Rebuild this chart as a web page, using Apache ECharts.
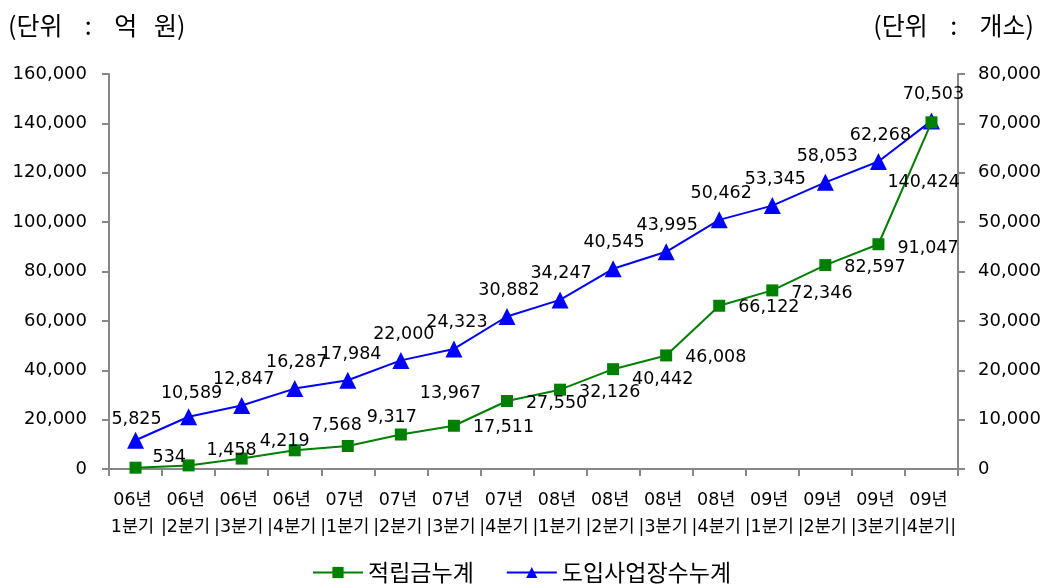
<!DOCTYPE html>
<html>
<head>
<meta charset="utf-8">
<script src="https://cdn.jsdelivr.net/npm/echarts@6/dist/echarts.min.js"></script>
<style>
  html, body { margin: 0; padding: 0; background: #fff; }
  #chart { width: 1048px; height: 585px; }
</style>
</head>
<body>
<div id="chart"></div>
<script>
// Quarterly categories (year / quarter)
const years = ['06년', '06년', '06년', '06년', '07년', '07년', '07년', '07년',
               '08년', '08년', '08년', '08년', '09년', '09년', '09년', '09년'];
const quarters = ['1분기', '2분기', '3분기', '4분기', '1분기', '2분기', '3분기', '4분기',
                  '1분기', '2분기', '3분기', '4분기', '1분기', '2분기', '3분기', '4분기'];

// 적립금누계 (억 원), left axis
const reserveTotal = [534, 1458, 4219, 7568, 9317, 13967, 17511, 27550,
                      32126, 40442, 46008, 66122, 72346, 82597, 91047, 140424];
// 도입사업장수누계 (개소), right axis
const siteTotal = [5825, 10589, 12847, 16287, 17984, 22000, 24323, 30882,
                   34247, 40545, 43995, 50462, 53345, 58053, 62268, 70503];

const seriesNames = ['적립금누계', '도입사업장수누계'];
const unitLeft = '(단위    :    억   원)';
const unitRight = '(단위    :    개소)';

// Per-point nudges for the labels so they don't collide with the lines
const reserveLabelNudge = [[-2, -10], [-1, -15], [-1, -17], [-2, -25], [0, -29], [0, -41],
                           [0, 2], [0, 2], [0, 3], [0, 10], [0, 2], [0, 2], [0, 3], [0, 2], [0, 4], [-63, 60]];
const siteLabelNudge = [[1, 5], [3, 3], [2, 0], [2, 0], [3, 0], [3, 0], [3, 0], [2, 0],
                        [1, 0], [1, 0], [1, 0], [2, 0], [3, 0], [2, 0], [2, 0], [2, 0]];

const numFont = '"DejaVu Sans", "Noto Sans CJK KR", sans-serif';
const krFont = '"Noto Sans CJK KR", sans-serif';
const fmt = v => Number(v).toLocaleString('en-US');
const axisGray = '#878787';
const last = quarters.length - 1;

const chart = echarts.init(document.getElementById('chart'), null, { renderer: 'canvas' });

chart.setOption({
  animation: false,
  backgroundColor: '#ffffff',
  title: [
    { text: unitLeft, left: 3, top: 8,
      textStyle: { fontFamily: krFont, fontSize: 25, fontWeight: 'normal', color: '#000' } },
    { text: unitRight, right: 9, top: 8,
      textStyle: { fontFamily: krFont, fontSize: 25, fontWeight: 'normal', color: '#000' } }
  ],
  legend: {
    data: seriesNames,
    left: 307,
    top: 556,
    itemWidth: 50,
    itemHeight: 14,
    itemGap: 32,
    textStyle: { fontFamily: krFont, fontSize: 23, color: '#000' }
  },
  grid: { left: 109, right: 90, top: 74, bottom: 116, containLabel: false },
  xAxis: {
    type: 'category',
    data: quarters.map((q, i) => years[i] + ' ' + q),
    boundaryGap: true,
    axisLine: { lineStyle: { color: axisGray, width: 2 } },
    axisTick: { show: true, length: 7, lineStyle: { color: axisGray, width: 2 } },
    axisLabel: {
      interval: 0,
      margin: 18,
      lineHeight: 27,
      padding: [0, 6, 0, 0],
      fontFamily: numFont,
      fontSize: 17.5,
      color: '#000',
      formatter: (val, idx) => years[idx] + '\n' + (idx === 0 ? '' : '|') + quarters[idx] + (idx === last ? '|' : '')
    },
    splitLine: { show: false }
  },
  yAxis: [
    {
      type: 'value', min: 0, max: 160000, interval: 20000,
      axisLine: { show: true, lineStyle: { color: axisGray, width: 2 } },
      axisTick: { show: true, length: 7, lineStyle: { color: axisGray, width: 2 } },
      axisLabel: { margin: 22, fontFamily: numFont, fontSize: 18, color: '#000', formatter: fmt },
      splitLine: { show: false }
    },
    {
      type: 'value', min: 0, max: 80000, interval: 10000, position: 'right',
      axisLine: { show: true, lineStyle: { color: axisGray, width: 2 } },
      axisTick: { show: true, length: 7, lineStyle: { color: axisGray, width: 2 } },
      axisLabel: { margin: 20, fontFamily: numFont, fontSize: 18, color: '#000', formatter: fmt },
      splitLine: { show: false }
    }
  ],
  series: [
    {
      name: seriesNames[0],
      type: 'line',
      yAxisIndex: 0,
      data: reserveTotal.map((v, i) => ({ value: v, label: { offset: reserveLabelNudge[i] } })),
      symbol: 'rect',
      symbolSize: 12,
      lineStyle: { color: '#008000', width: 2 },
      itemStyle: { color: '#008000' },
      label: {
        show: true, position: 'right', distance: 13,
        fontFamily: numFont, fontSize: 17.5, color: '#000',
        formatter: p => fmt(p.value)
      },
      z: 3
    },
    {
      name: seriesNames[1],
      type: 'line',
      yAxisIndex: 1,
      data: siteTotal.map((v, i) => ({ value: v, label: { offset: siteLabelNudge[i] } })),
      symbol: 'triangle',
      symbolSize: 17,
      lineStyle: { color: '#0000ff', width: 2 },
      itemStyle: { color: '#0000ff' },
      label: {
        show: true, position: 'top', distance: 9,
        fontFamily: numFont, fontSize: 17.5, color: '#000',
        formatter: p => fmt(p.value)
      },
      z: 2
    }
  ]
});
</script>
</body>
</html>
